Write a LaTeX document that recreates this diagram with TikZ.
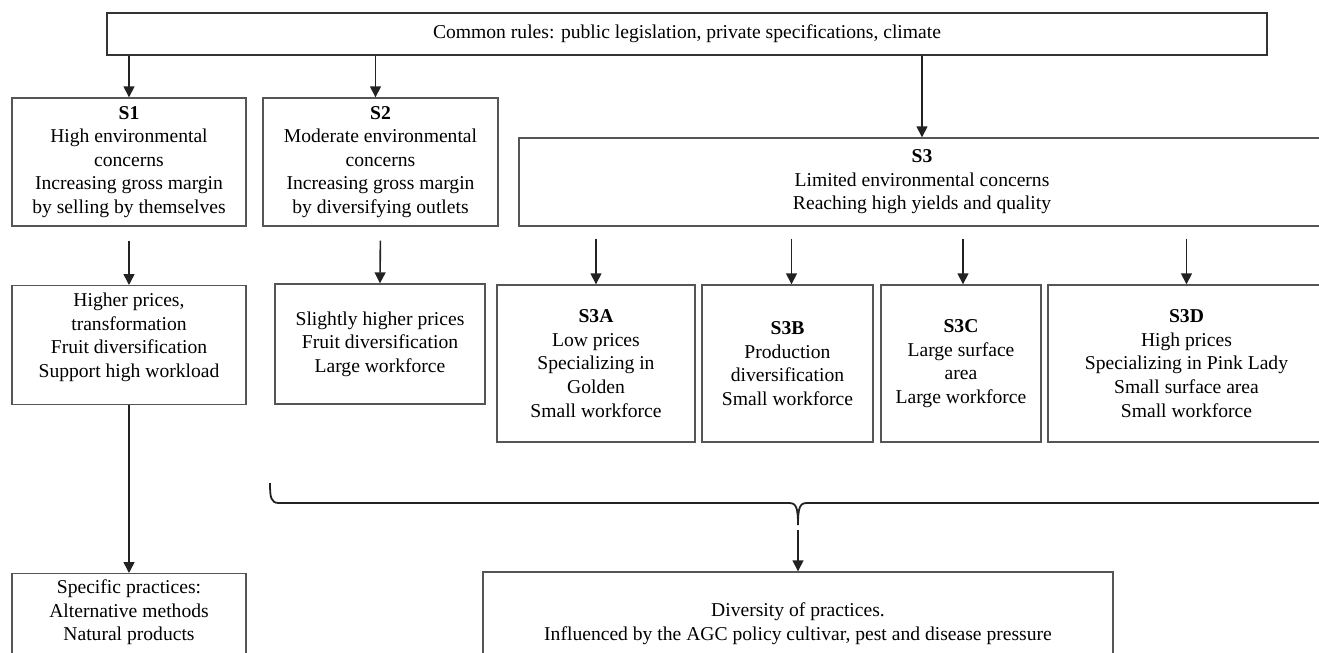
\documentclass[tikz,border=0pt]{standalone}
\usepackage{fontspec}
\setmainfont{Liberation Serif}
\usepackage{tikz}
\usetikzlibrary{arrows.meta}
\usepackage{xcolor}
\definecolor{boxline}{HTML}{555555}
\definecolor{ink}{HTML}{222222}

\begin{document}
\begin{tikzpicture}[x=0.5pt, y=-0.5pt,
  box/.style={draw=boxline, line width=0.7pt, inner sep=0pt, align=center, font=\fontsize{9.8}{11.8}\selectfont},
  arr/.style={-{Triangle[width=5.5pt,length=5.5pt]}, line width=0.8pt, ink},
  bracepath/.style={line width=0.9pt, ink}]
  \useasboundingbox (0,0) rectangle (1319,653);
  \clip (0,0) rectangle (1319,653);
  % Common rules
  \node[box, minimum width=580pt, minimum height=21pt, draw=black!80] (common) at (687,34)
    {Common rules: public legislation, private specifications, climate};
  % Strategies
  \node[box, minimum width=117pt, minimum height=64pt] (s1) at (129,162)
    {\textbf{S1}\\High environmental\\concerns\\Increasing gross margin\\by selling by themselves};
  \node[box, minimum width=117.5pt, minimum height=64pt] (s2) at (380.5,162)
    {\textbf{S2}\\Moderate environmental\\concerns\\Increasing gross margin\\by diversifying outlets};
  \node[box, minimum width=403pt, minimum height=44pt] (s3) at (922,182)
    {\textbf{S3}\\Limited environmental concerns\\Reaching high yields and quality};
  % Consequences
  \node[box, anchor=north, minimum width=117pt, text height=10.5pt, text depth=49pt] (hp1) at (129,285)
    {\begin{tabular}[t]{@{}c@{}}Higher prices,\\transformation\\Fruit diversification\\Support high workload\end{tabular}};
  \node[box, minimum width=105pt, minimum height=60pt] (p2) at (380,344)
    {Slightly higher prices\\Fruit diversification\\Large workforce};
  \node[box, minimum width=99pt, minimum height=78.5pt] (s3a) at (596,363.5)
    {\textbf{S3A}\\Low prices\\Specializing in\\Golden\\Small workforce};
  \node[box, minimum width=85.5pt, minimum height=78.5pt] (s3b) at (787.5,363.5)
    {\textbf{S3B}\\Production\\diversification\\Small workforce};
  \node[box, minimum width=80pt, minimum height=78.5pt] (s3c) at (961,363.5)
    {\textbf{S3C}\\Large surface\\area\\Large workforce};
  \node[box, minimum width=138.5pt, minimum height=78.5pt] (s3d) at (1186.5,363.5)
    {\textbf{S3D}\\High prices\\Specializing in Pink Lady\\Small surface area\\Small workforce};
  % Practices
  \node[box, anchor=north, minimum width=117pt, inner sep=3pt, text depth=50pt] (sp1) at (129,573)
    {Specific practices:\\Alternative methods\\Natural products};
  \node[box, minimum width=315pt, minimum height=52pt] (div) at (798,624)
    {Diversity of practices.\\Influenced by the AGC policy cultivar, pest and disease pressure};
  % Arrows
  \draw[arr] (common.south -| s1.north) -- (s1.north);
  \draw[arr, transform canvas={xshift=-2.5pt}] (common.south -| s2.north) -- (s2.north);
  \draw[arr] (common.south -| s3.north) -- (s3.north);
  \draw[arr, shorten <=7pt] (s1.south) -- (hp1.north);
  \draw[arr, shorten <=7pt] (s2.south) -- (p2.north);
  \foreach \sub/\dx in {s3a/0,s3b/2,s3c/1,s3d/0}
    \draw[arr, shorten <=6pt, transform canvas={xshift=\dx pt}] (s3.south -| \sub.north) -- (\sub.north);
  \draw[arr] (hp1.south) -- (sp1.north);
  % Brace
  \coordinate (braceL) at (270,483);
  \coordinate (braceR) at (1326,483);
  \coordinate (bracetip) at (798,525);
  \draw[bracepath] (braceL) .. controls (270,498) and (271,503) .. (279,503) -- (789,503)
    .. controls (796,503) and (798,507) .. (bracetip)
    .. controls (798,507) and (800,503) .. (807,503) -- (1317,503)
    .. controls (1325,503) and (1326,498) .. (braceR);
  \draw[arr, shorten <=2.5pt] (bracetip) -- (div.north);
\end{tikzpicture}
\end{document}
